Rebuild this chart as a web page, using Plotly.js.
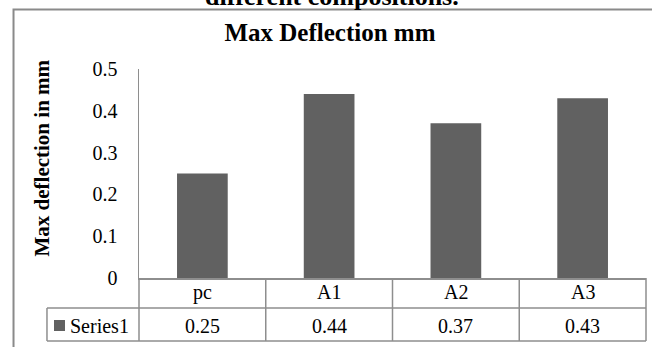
<!DOCTYPE html>
<html>
<head>
<meta charset="utf-8">
<script src="https://cdn.plot.ly/plotly-3.0.1.min.js"></script>
<style>
html,body{margin:0;padding:0;background:#fff;}
#chart{width:652px;height:347px;}
</style>
</head>
<body>
<div id="chart"></div>
<script>
// ---- data ----
const categories = ['pc', 'A1', 'A2', 'A3'];
const values = [0.25, 0.44, 0.37, 0.43];
const seriesName = 'Series1';
const yTickVals = [0, 0.1, 0.2, 0.3, 0.4, 0.5];
const chartTitle = 'Max Deflection mm';
const yTitle = 'Max deflection in mm';
const caption = 'different compositions.';

// ---- style ----
const FONT = 'Liberation Serif, Times New Roman, serif';
const BAR = '#616161';
const LINE = '#8e8e8e';

// paper-coordinate helpers for table rows (plot area 139..646 x, 69..278 y)
const rowTop = 0, rowMid = -0.1435, rowBot = -0.3014;
const legendLeft = -0.1815;

const shapes = [];
// outer frame
shapes.push({type:'rect', xref:'paper', yref:'paper', x0:-0.2475, x1:1.3, y0:-0.6, y1:1.2847,
  line:{color:'#8a8a8a', width:2}, fillcolor:'rgba(0,0,0,0)', layer:'below'});
// horizontal table lines
[rowMid, rowBot].forEach(y => shapes.push({type:'line', xref:'paper', yref:'paper',
  x0:legendLeft, x1:1, y0:y, y1:y, line:{color:LINE, width:1.5}}));
// vertical lines at plot edges
[0, 1].forEach(x => shapes.push({type:'line', xref:'paper', yref:'paper',
  x0:x, x1:x, y0:rowTop, y1:rowBot, line:{color:LINE, width:1.5}}));
// vertical lines between categories
for (let i = 0; i < categories.length - 1; i++) {
  shapes.push({type:'line', xref:'x', yref:'paper', x0:i + 0.5, x1:i + 0.5,
    y0:rowTop, y1:rowBot, line:{color:LINE, width:1.5}});
}
// legend cell left edge
shapes.push({type:'line', xref:'paper', yref:'paper', x0:legendLeft, x1:legendLeft,
  y0:rowMid, y1:rowBot, line:{color:LINE, width:1.5}});
// legend key
shapes.push({type:'rect', xref:'paper', yref:'paper', x0:-0.1677, x1:-0.146, y0:-0.2536, y1:-0.201,
  line:{width:0}, fillcolor:BAR});

const annotations = [];
// category row of the data table
categories.forEach(c => annotations.push({
  x:c, xref:'x', y:-0.069, yref:'paper', text:c, showarrow:false,
  xanchor:'center', yanchor:'middle', font:{family:FONT, size:20, color:'#000'}
}));
// value row
categories.forEach((c, i) => annotations.push({
  x:c, xref:'x', y:-0.2273, yref:'paper', text:String(values[i]), showarrow:false,
  xanchor:'center', yanchor:'middle', font:{family:FONT, size:20, color:'#000'}
}));
// series name
annotations.push({x:-0.14, xref:'paper', y:-0.2273, yref:'paper', text:seriesName,
  showarrow:false, xanchor:'left', yanchor:'middle', font:{family:FONT, size:20, color:'#000'}});
// y axis title
annotations.push({x:-0.1913, xref:'paper', y:0.5718, yref:'paper', text:yTitle, textangle:-90,
  showarrow:false, xanchor:'center', yanchor:'middle',
  font:{family:FONT, size:21, color:'#000', weight:'bold'}});
// caption at top, clipped by the page edge as in the source image
annotations.push({x:0.3807, xref:'paper', y:1.349, yref:'paper', text:caption,
  showarrow:false, xanchor:'center', yanchor:'middle',
  font:{family:FONT, size:26, color:'#000', weight:'bold'}});

const trace = {
  type:'bar', x:categories, y:values, name:seriesName,
  marker:{color:BAR, line:{width:0}}, hoverinfo:'skip'
};

const layout = {
  width:652, height:347,
  margin:{l:139, r:6, t:69, b:69, pad:0},
  paper_bgcolor:'#fff', plot_bgcolor:'#fff',
  showlegend:false,
  bargap:0.6,
  font:{family:FONT, color:'#000'},
  title:{text:chartTitle, x:330/652, xref:'container', xanchor:'center',
    y:1 - 32/347, yref:'container', yanchor:'middle',
    font:{family:FONT, size:25, color:'#000', weight:'bold'}},
  xaxis:{type:'category', showline:true, linecolor:LINE, linewidth:1.5, showgrid:false,
    zeroline:false, ticks:'', showticklabels:false, automargin:false, fixedrange:true},
  yaxis:{range:[0, 0.5], tickvals:yTickVals, ticktext:yTickVals.map(String),
    showline:true, linecolor:LINE, linewidth:1.5, showgrid:false, zeroline:false, ticks:'',
    tickfont:{family:FONT, size:20, color:'#000'}, ticklabelstandoff:16,
    automargin:false, fixedrange:true},
  shapes:shapes,
  annotations:annotations
};

Plotly.newPlot('chart', [trace], layout, {staticPlot:true, displayModeBar:false});
</script>
</body>
</html>
